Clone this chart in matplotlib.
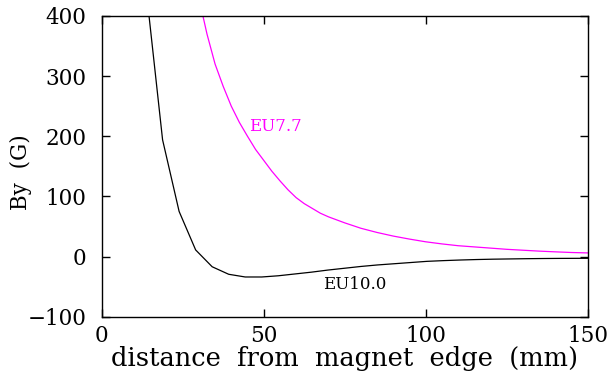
import numpy as np
import matplotlib
matplotlib.use('Agg')
import matplotlib.pyplot as plt

# EU7.7 (magenta)
x77 = [0, 5, 10, 15, 20, 25, 27.5, 30, 32.5, 35, 37.5, 40, 42.5, 45, 47.5, 50,
       52.5, 55, 57.5, 60, 62.5, 65, 67.5, 70, 72.5, 75, 80, 85, 90,
       95, 100, 105, 110, 115, 120, 125, 130, 135, 140, 145, 150]
y77 = [370, 9000, 3000, 1500, 900, 600, 510, 430, 370, 320, 283, 250, 223, 200,
       178, 160, 142, 126, 111, 98, 88, 80, 72, 66, 61, 56, 47, 40, 34, 29, 24.5,
       21, 18, 16, 14, 12, 10.5, 9, 7.8, 6.7, 6]

# EU10.0 (black)
x10 = [13.8, 18.8, 23.9, 29.0, 34.1, 39.2, 44.3, 49.4, 54.5, 59.6, 64.7, 69.8, 74.9,
       80.0, 85.1, 90.2, 95.3, 100.4, 105.5, 110.6, 115.7, 120.8, 125.9, 131.0,
       136.1, 141.2, 146.3, 151.4]
y10 = [440, 194, 75, 11, -17, -29.5, -34, -34, -32, -29, -26, -22.5, -19.5, -16.5,
       -14, -12, -10, -8, -6.8, -5.8, -5, -4.4, -4, -3.6, -3.3, -3.1, -3, -2.9]

plt.rcParams['font.family'] = ['DejaVu Serif']

fig = plt.figure(figsize=(6.07, 3.77), dpi=100)
ax = fig.add_axes([0.1675, 0.160, 0.8007, 0.7977])

ax.plot(x77, y77, color='#ff00ff', lw=0.9)
ax.plot(x10, y10, color='black', lw=0.9)

ax.text(53.5, 217, 'EU7.7', color='#ff00ff', fontsize=12, ha='center', va='center')
ax.text(78.2, -47, 'EU10.0', color='black', fontsize=12, ha='center', va='center')

ax.set_xlim(0, 150)
ax.set_ylim(-100, 400)
ax.set_xticks([0, 50, 100, 150])
ax.set_yticks([-100, 0, 100, 200, 300, 400])
ax.tick_params(direction='in', length=6, width=1, top=True, right=True,
               labelsize=15.5)
ax.tick_params(axis='y', pad=11)
ax.tick_params(axis='x', pad=6)
for s in ax.spines.values():
    s.set_linewidth(1)

ax.set_xlabel('distance  from  magnet  edge  (mm)', fontsize=18.5, labelpad=-1)
ax.set_ylabel('By  (G)', fontsize=15.5)
ax.yaxis.set_label_coords(-0.143, 0.48)

fig.savefig('out.png', dpi=100)
